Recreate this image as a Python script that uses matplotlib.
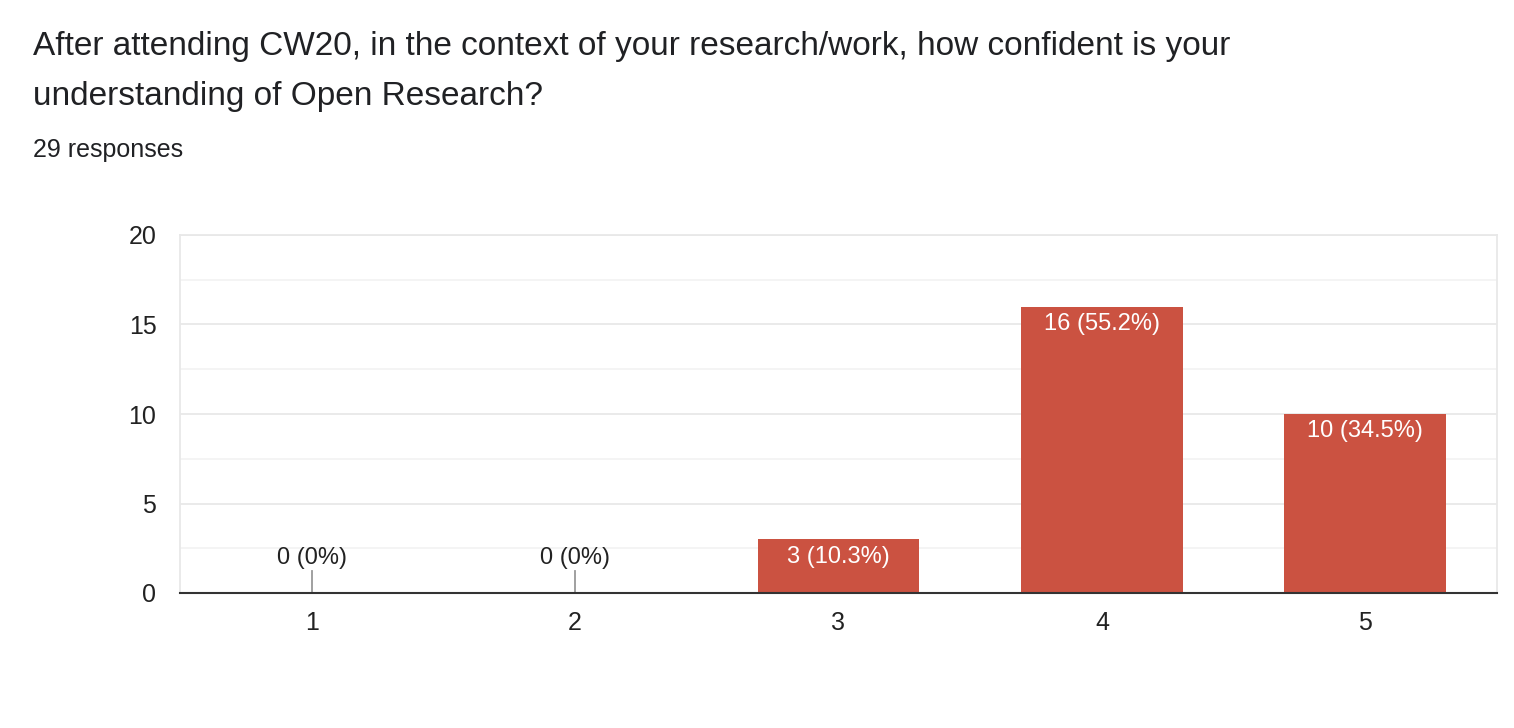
import matplotlib.pyplot as plt
from matplotlib.ticker import MultipleLocator

# data
categories = ["1", "2", "3", "4", "5"]
counts = [0, 0, 3, 16, 10]
pct_labels = ["0%", "0%", "10.3%", "55.2%", "34.5%"]
title_lines = [
    "After attending CW20, in the context of your research/work, how confident is your",
    "understanding of Open Research?",
]
subtitle = "29 responses"

plt.rcParams["font.family"] = ["Liberation Sans", "DejaVu Sans"]

fig = plt.figure(figsize=(15.14, 7.28), dpi=100)
ax = fig.add_axes([180 / 1514, 1 - 593 / 728, (1497 - 180) / 1514, (593 - 235) / 728])

x = list(range(1, len(categories) + 1))
bar_color = "#cb5241"
ax.bar(x, counts, width=0.615, color=bar_color, zorder=3)

# labels
for xi, c, p in zip(x, counts, pct_labels):
    lab = f"{c} ({p})"
    if c == 0:
        ax.plot([xi, xi], [0, 1.25], color="#999999", lw=1.3, zorder=4)
        ax.text(xi, 1.35, lab, ha="center", va="bottom", fontsize=17, color="#222222")
    else:
        ax.text(xi, c - 0.35, lab, ha="center", va="top", fontsize=17, color="white", zorder=5)

ax.set_xlim(0.5, 5.5)
ax.set_ylim(0, 20)
ax.set_xticks(x)
ax.set_xticklabels(categories)
ax.yaxis.set_major_locator(MultipleLocator(5))
ax.yaxis.set_minor_locator(MultipleLocator(2.5))
ax.grid(True, which="major", axis="y", color="#e8e8e8", lw=1.3, zorder=0)
ax.grid(True, which="minor", axis="y", color="#f3f3f3", lw=1.3, zorder=0)

for side in ["left", "right", "top"]:
    ax.spines[side].set_color("#e8e8e8")
    ax.spines[side].set_linewidth(1.3)
ax.spines["bottom"].set_color("#333333")
ax.spines["bottom"].set_linewidth(1.5)
ax.spines["bottom"].set_zorder(6)

ax.tick_params(axis="both", which="both", length=0, labelsize=18, labelcolor="#222222")
ax.tick_params(axis="y", pad=17)
ax.tick_params(axis="x", pad=13)

# title
fig.text(33 / 1514, 1 - 46 / 728, title_lines[0], fontsize=24, color="#202124", va="center", ha="left")
fig.text(33 / 1514, 1 - 96 / 728, title_lines[1], fontsize=24, color="#202124", va="center", ha="left")
fig.text(33 / 1514, 1 - 150 / 728, subtitle, fontsize=18, color="#202124", va="center", ha="left")

fig.savefig("out.png", dpi=100, facecolor="white")
